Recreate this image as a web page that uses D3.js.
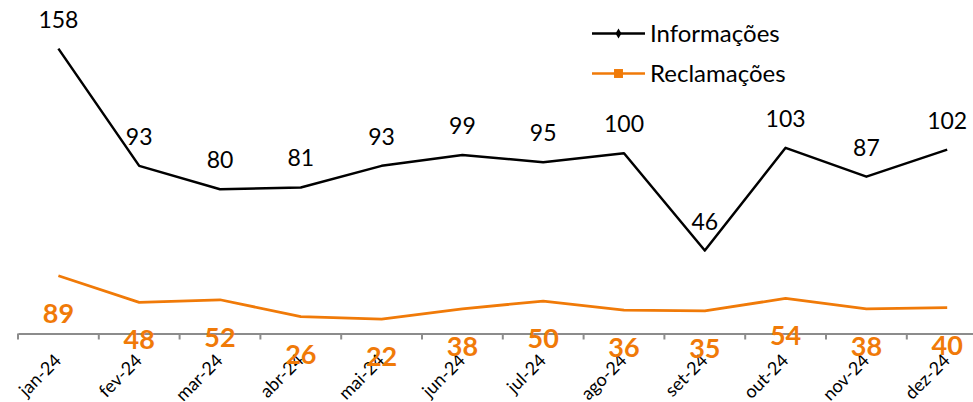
<!DOCTYPE html>
<html>
<head>
<meta charset="utf-8">
<script src="https://cdn.jsdelivr.net/npm/d3@7"></script>
<style>
  body { margin: 0; background: #fff; }
  svg { display: block; font-family: Lato, "Open Sans", sans-serif; }
</style>
</head>
<body>
<div class="chart"></div>
<script>
// ======================================
// data
// ======================================
var months = ['jan-24', 'fev-24', 'mar-24', 'abr-24', 'mai-24', 'jun-24',
              'jul-24', 'ago-24', 'set-24', 'out-24', 'nov-24', 'dez-24'];
var informacoes = [158, 93, 80, 81, 93, 99, 95, 100, 46, 103, 87, 102];
var reclamacoes = [89, 48, 52, 26, 22, 38, 50, 36, 35, 54, 38, 40];
var seriesNames = ['Informações', 'Reclamações'];

// ======================================
// sizes
// ======================================
var chart = { width: 973, height: 402, left: 18, top: 9, bottom: 333.5 };
var black = '#000000', orange = '#F07A08';

var svg = d3.select('.chart')
   .append('svg')
   .attr('width', chart.width)
   .attr('height', chart.height);

// ======================================
// scales (orange series sits on a secondary axis)
// ======================================
var x = d3.scaleBand()
   .domain(months)
   .range([chart.left, chart.left + 80.8 * months.length]);

var y1 = d3.scaleLinear().domain([0, 180]).range([chart.bottom, chart.top]);
var y2 = d3.scaleLinear().domain([0, 500]).range([chart.bottom, chart.top]);

function cx(i){ return x(months[i]) + x.bandwidth() / 2; }

// ======================================
// x axis
// ======================================
var xAxis = svg.append('g')
   .attr('transform', 'translate(0,' + chart.bottom + ')')
   .call(d3.axisBottom(x).tickSize(0).tickFormat(''));
xAxis.select('.domain')
   .attr('stroke', '#8c8c8c')
   .attr('stroke-width', 2);

// ticks on category boundaries
svg.selectAll('.bound')
   .data(months)
   .enter()
   .append('line')
   .attr('x1', function(d){ return x(d); })
   .attr('x2', function(d){ return x(d); })
   .attr('y1', chart.bottom)
   .attr('y2', chart.bottom + 6)
   .attr('stroke', '#8c8c8c')
   .attr('stroke-width', 2);

svg.selectAll('.xlab')
   .data(months)
   .enter()
   .append('text')
   .text(function(d){ return d; })
   .attr('text-anchor', 'end')
   .attr('font-size', '18px')
   .attr('fill', '#000')
   .attr('transform', function(d, i){
      return 'translate(' + (cx(i) + 4) + ',' + (chart.bottom + 28) + ') rotate(-45)';
   });

// ======================================
// lines
// ======================================
var line1 = d3.line()
   .x(function(d, i){ return cx(i); })
   .y(function(d){ return y1(d); });
var line2 = d3.line()
   .x(function(d, i){ return cx(i); })
   .y(function(d){ return y2(d); });

svg.append('path')
   .datum(reclamacoes)
   .attr('d', line2)
   .attr('fill', 'none')
   .attr('stroke', orange)
   .attr('stroke-width', 2.75)
   .attr('stroke-linejoin', 'round');

svg.append('path')
   .datum(informacoes)
   .attr('d', line1)
   .attr('fill', 'none')
   .attr('stroke', black)
   .attr('stroke-width', 2.5)
   .attr('stroke-linejoin', 'round');

// ======================================
// data labels
// ======================================
svg.selectAll('.lab1')
   .data(informacoes)
   .enter()
   .append('text')
   .text(function(d){ return d; })
   .attr('x', function(d, i){ return cx(i); })
   .attr('y', function(d){ return y1(d) - 21; })
   .attr('text-anchor', 'middle')
   .attr('font-size', '23px')
   .attr('fill', black);

svg.selectAll('.lab2')
   .data(reclamacoes)
   .enter()
   .append('text')
   .text(function(d){ return d; })
   .attr('x', function(d, i){ return cx(i); })
   .attr('y', function(d){ return y2(d) + 47; })
   .attr('text-anchor', 'middle')
   .attr('font-size', '27px')
   .attr('font-weight', 'bold')
   .attr('fill', orange);

// ======================================
// legend
// ======================================
var legend = svg.selectAll('.legend')
   .data(seriesNames)
   .enter()
   .append('g')
   .attr('transform', function(d, i){ return 'translate(592,' + (33.5 + i * 40) + ')'; });

legend.append('line')
   .attr('x1', 0).attr('x2', 53)
   .attr('stroke', function(d, i){ return i ? orange : black; })
   .attr('stroke-width', 2.5);

legend.append('path')
   .attr('transform', 'translate(26.5,0)')
   .attr('d', function(d, i){
      return i ? d3.symbol(d3.symbolSquare, 80)() : d3.symbol(d3.symbolDiamond, 30)();
   })
   .attr('fill', function(d, i){ return i ? orange : black; });

legend.append('text')
   .text(function(d){ return d; })
   .attr('x', 58)
   .attr('y', 8.5)
   .attr('font-size', '24px')
   .attr('fill', '#000');
</script>
</body>
</html>
